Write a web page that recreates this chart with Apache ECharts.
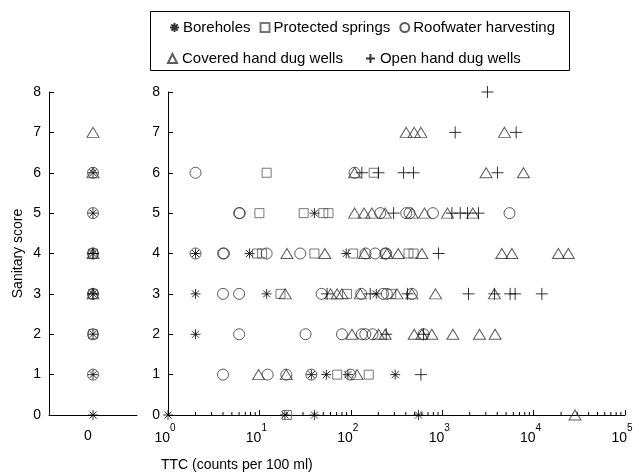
<!DOCTYPE html>
<html><head><meta charset="utf-8">
<script src="https://cdn.jsdelivr.net/npm/echarts@6/dist/echarts.min.js"></script>
<style>html,body{margin:0;padding:0;background:#fff}#c{width:639px;height:475px}</style>
</head><body><div id="c"></div>
<script>
// ---- Data: TTC (counts per 100 ml) > 0, right panel ----
const boreholesTTC   = [1, 19, 40, 551, 37, 54, 93, 306, 2, 2, 12, 190, 2, 7.8, 89, 40];
const boreholesScore = [0, 0, 0, 0, 1, 1, 1, 1, 2, 3, 3, 3, 4, 4, 4, 5];

const springsTTC   = [20, 71, 157, 17, 91, 277, 9.4, 10.7, 40, 106, 428, 486, 10, 30.5, 50, 57, 12, 178];
const springsScore = [0, 1, 1, 3, 3, 3, 4, 4, 4, 4, 4, 4, 5, 5, 5, 5, 6, 6];

const roofTTC   = [4, 12.3, 19.7, 37, 99, 6, 32, 80, 132, 144, 173, 625, 4, 6, 48, 130, 225, 248, 466,
                   2, 4, 4.1, 12, 28, 145, 185, 238, 244, 6, 6.1, 210, 404, 439, 791, 5450, 2, 110];
const roofScore = [1, 1, 1, 1, 1, 2, 2, 2, 2, 2, 2, 2, 3, 3, 3, 3, 3, 3, 3,
                   4, 4, 4, 4, 4, 4, 4, 4, 4, 5, 5, 5, 5, 5, 5, 5, 6, 6];

const coveredTTC   = [28400, 9.8, 19.7, 117, 103, 201, 238, 494, 600, 771, 1309, 2557, 3793,
                      19.2, 60, 71, 80, 127, 320, 466, 845, 3730,
                      20, 52, 141, 248, 330, 600, 4490, 5780, 18670, 23990,
                      110, 140, 170, 238, 466, 641, 1143, 2163, 110, 3020, 7740, 404, 494, 585, 4800];
const coveredScore = [0, 1, 1, 1, 2, 2, 2, 2, 2, 2, 2, 2, 2,
                      3, 3, 3, 3, 3, 3, 3, 3, 3,
                      4, 4, 4, 4, 4, 4, 4, 4, 4, 4,
                      5, 5, 5, 5, 5, 5, 5, 5, 6, 6, 6, 7, 7, 7, 7];

const openTTC   = [585, 244, 625, 55, 163, 418, 1940, 3730, 5540, 6280, 12300, 912,
                   294, 1277, 1574, 1891, 2495, 132, 201, 378, 485, 4025, 1387, 6440, 3126];
const openScore = [1, 2, 2, 3, 3, 3, 3, 3, 3, 3, 3, 4,
                   5, 5, 5, 5, 5, 6, 6, 6, 6, 6, 7, 7, 8];

// ---- Data: TTC = 0, left panel (scores) ----
const boreholesZero = [0, 1, 2, 3, 4, 5, 6];
const springsZero   = [2, 3, 4];
const roofZero      = [1, 2, 3, 4, 5, 6];
const coveredZero   = [3, 4, 6, 7];
const openZero      = [3, 4];

// ---- Axis ticks ----
const zeroCategories = ['0'];
const decades = [1, 10, 100, 1000, 10000];
const minorMultipliers = [2, 3, 4, 5, 6, 7, 8, 9];
const names = ['Boreholes', 'Protected springs', 'Roofwater harvesting', 'Covered hand dug wells', 'Open hand dug wells'];

const minorTicks = [];
decades.forEach(d => minorMultipliers.forEach(m => minorTicks.push([d * m, 0])));

const symbols = {
  'Boreholes': 'path://M0,-5L0,5M-5,0L5,0M-3.5,-3.5L3.5,3.5M-3.5,3.5L3.5,-3.5',
  'Protected springs': 'rect',
  'Roofwater harvesting': 'circle',
  'Covered hand dug wells': 'triangle',
  'Open hand dug wells': 'path://M0,-5L0,5M-5,0L5,0'
};
const sizes = {
  'Boreholes': 10, 'Protected springs': 9, 'Roofwater harvesting': 11,
  'Covered hand dug wells': [12, 10], 'Open hand dug wells': 12
};
const colors = {
  'Boreholes': '#000', 'Protected springs': '#555', 'Roofwater harvesting': '#333',
  'Covered hand dug wells': '#333', 'Open hand dug wells': '#000'
};
const pos = {
  'Boreholes': [boreholesTTC, boreholesScore], 'Protected springs': [springsTTC, springsScore],
  'Roofwater harvesting': [roofTTC, roofScore], 'Covered hand dug wells': [coveredTTC, coveredScore],
  'Open hand dug wells': [openTTC, openScore]
};
const zero = {
  'Boreholes': boreholesZero, 'Protected springs': springsZero, 'Roofwater harvesting': roofZero,
  'Covered hand dug wells': coveredZero, 'Open hand dug wells': openZero
};

function style(n) {
  return { color: 'rgba(0,0,0,0)', borderColor: colors[n], borderWidth: 1 };
}

const series = [];
names.forEach(n => {
  series.push({
    type: 'scatter', name: n, xAxisIndex: 1, yAxisIndex: 1,
    symbol: symbols[n], symbolSize: sizes[n], itemStyle: style(n),
    data: pos[n][0].map((v, i) => [v, pos[n][1][i]]), z: 3
  });
});
names.forEach(n => {
  series.push({
    type: 'scatter', name: n, xAxisIndex: 0, yAxisIndex: 0,
    symbol: symbols[n], symbolSize: sizes[n], itemStyle: style(n),
    data: zero[n].map(s => [zeroCategories[0], s]), z: 3
  });
});
series.push({
  type: 'custom', xAxisIndex: 1, yAxisIndex: 1, silent: true, clip: false,
  data: minorTicks,
  renderItem: function (params, api) {
    const p = api.coord([api.value(0), api.value(1)]);
    return { type: 'line', shape: { x1: p[0], y1: p[1], x2: p[0], y2: p[1] - 3 },
             style: { stroke: '#000', lineWidth: 1 } };
  }
});

const FF = 'Liberation Sans, Arial, sans-serif';
const axisFont = { fontFamily: FF, fontSize: 14, color: '#000' };

const option = {
  animation: false,
  backgroundColor: '#fff',
  textStyle: { fontFamily: FF },
  grid: [
    { left: 49, right: 502, top: 92, bottom: 60, containLabel: false },
    { left: 168, right: 14, top: 92, bottom: 60, containLabel: false }
  ],
  xAxis: [
    { type: 'category', gridIndex: 0, data: zeroCategories, boundaryGap: true,
      axisLine: { lineStyle: { color: '#000', width: 1 } },
      axisTick: { inside: true, length: 5, lineStyle: { color: '#000' } },
      axisLabel: Object.assign({ margin: 14, padding: [0, 10, 0, 0] }, axisFont), splitLine: { show: false } },
    { type: 'log', gridIndex: 1, min: 1, max: 100000, logBase: 10,
      axisLine: { lineStyle: { color: '#000', width: 1 } },
      axisTick: { inside: true, length: 5, lineStyle: { color: '#000' } },
      splitLine: { show: false }, minorTick: { show: false },
      axisLabel: { margin: 8, color: '#000', padding: [0, 6, 0, 0],
        formatter: v => '{b|10}{e|' + Math.round(Math.log10(v)) + '}',
        rich: { b: { fontSize: 14, lineHeight: 22, verticalAlign: 'bottom', color: '#000', fontFamily: FF },
                e: { fontSize: 10, lineHeight: 22, verticalAlign: 'top', color: '#000', fontFamily: FF } } } }
  ],
  yAxis: [
    { type: 'value', gridIndex: 0, min: 0, max: 8, interval: 1,
      name: 'Sanitary score', nameLocation: 'middle', nameGap: 24, nameRotate: 90,
      nameTextStyle: axisFont,
      axisLine: { show: true, lineStyle: { color: '#000', width: 1 } },
      axisTick: { show: true, inside: true, length: 5, lineStyle: { color: '#000' } },
      axisLabel: Object.assign({ margin: 8 }, axisFont), splitLine: { show: false } },
    { type: 'value', gridIndex: 1, min: 0, max: 8, interval: 1,
      axisLine: { show: true, lineStyle: { color: '#000', width: 1 } },
      axisTick: { show: true, inside: true, length: 5, lineStyle: { color: '#000' } },
      axisLabel: Object.assign({ margin: 8 }, axisFont), splitLine: { show: false } }
  ],
  title: { text: 'TTC (counts per 100 ml)', left: 156, top: 453,
           textStyle: { fontSize: 14, fontWeight: 'normal', color: '#000', fontFamily: FF } },
  legend: [
    { data: names.slice(0, 3), left: 164, top: 15, itemWidth: 9, itemHeight: 9, itemGap: 9,
      textStyle: { fontSize: 15, color: '#000', fontFamily: FF, padding: [0, 0, 0, -1] } },
    { data: names.slice(3), left: 162, top: 46, itemWidth: 9, itemHeight: 9, itemGap: 22,
      textStyle: { fontSize: 15, color: '#000', fontFamily: FF } }
  ],
  graphic: [
    { type: 'rect', shape: { x: 150.5, y: 11.5, width: 419, height: 59 },
      style: { fill: 'none', stroke: '#000', lineWidth: 1 }, silent: true }
  ],
  series: series
};

const chart = echarts.init(document.getElementById('c'), null, { renderer: 'canvas' });
chart.setOption(option);
</script></body></html>
